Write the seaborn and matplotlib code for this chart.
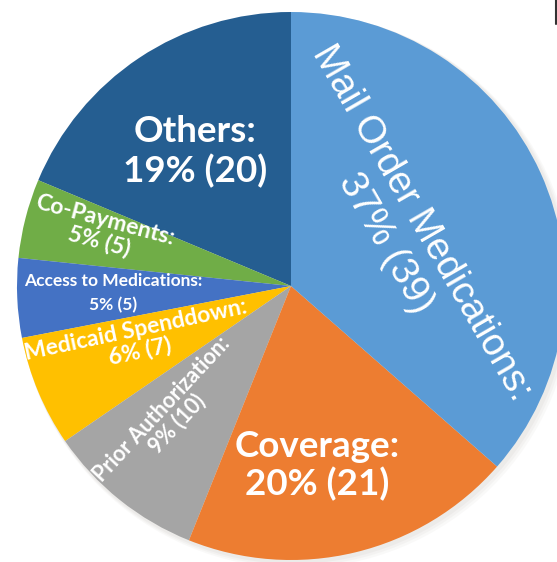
import numpy as np
import matplotlib
matplotlib.use("Agg")
import matplotlib.pyplot as plt
import seaborn as sns

# ---- data (counter-clockwise from 12 o'clock) ----
categories = ["Others", "Co-Payments", "Access to Medications", "Medicaid Spenddown",
              "Prior Authorization", "Coverage", "Mail Order Medications"]
counts = [20, 5, 5, 7, 10, 21, 39]
percent_labels = ["19%", "5%", "5%", "6%", "9%", "20%", "37%"]

colors = sns.color_palette(["#255E91", "#70AD47", "#4472C4", "#FFC000",
                            "#A5A5A5", "#ED7D31", "#5B9BD5"])

sns.set_theme(style="white")
plt.rcParams["font.family"] = ["Lato", "DejaVu Sans"]

W, H = 557, 562
fig = plt.figure(figsize=(W / 100, H / 100), dpi=100)
ax = fig.add_axes([0, 0, 1, 1])
ax.set_axis_off()

# pie geometry in pixels: centre (291, 286), radius 274
cx, cy, R = 291, 286, 274

# soft drop shadow
for off, a in [(0.030, 0.05), (0.022, 0.06), (0.014, 0.07)]:
    ax.add_patch(plt.Circle((off * 0.6, -off * 0.6), 1.0 + off * 0.4,
                            color="#9a8f88", alpha=a, lw=0, zorder=0))

wedges, _ = ax.pie(counts, colors=colors, startangle=90, counterclock=True,
                   radius=1.0, center=(0, 0), frame=True,
                   wedgeprops=dict(linewidth=0))
ax.set_xlim(-cx / R, (W - cx) / R)
ax.set_ylim(-(H - cy) / R, cy / R)
ax.set_aspect("auto")
ax.set_axis_off()

# label styles: (radius, angle offset from wedge mid, rotation, fontsize, family, weight, linespacing)
styles = [
    (0.603, 2.0, 0, 26.5, "Lato", "bold", 1.2),
    (0.718, -2.0, -15, 16.5, "Lato", "bold", 1.0),
    (0.649, -0.2, 0, 12.5, "Lato", "bold", 1.55),
    (0.595, -2.9, 12, 16.5, "Lato", "bold", 1.0),
    (0.650, -4.3, 47, 15.5, "Lato", "bold", 1.0),
    (0.662, -5.0, 0, 26.5, "Lato", "bold", 1.15),
    (0.455, 0.8, -60, 27.5, "Liberation Sans", "normal", 1.2),
]

total = sum(counts)
start = 90.0
for cat, n, pct, (r, doff, rot, fs, fam, wt, ls) in zip(categories, counts, percent_labels, styles):
    span = 360.0 * n / total
    mid = np.deg2rad(start + span / 2 + doff)
    start += span
    ax.text(r * np.cos(mid), r * np.sin(mid), f"{cat}:\n{pct} ({n})",
            ha="center", va="center", rotation=rot, rotation_mode="anchor",
            fontsize=fs, family=[fam, "DejaVu Sans"], fontweight=wt,
            color="white", linespacing=ls, multialignment="center")

# small dark tick at the top-right corner of the source image
fig.add_artist(plt.Line2D([0.9975, 0.9975], [1.0, 0.958], transform=fig.transFigure,
                          color="#333333", lw=1.5))

fig.savefig("out.png", dpi=100)
